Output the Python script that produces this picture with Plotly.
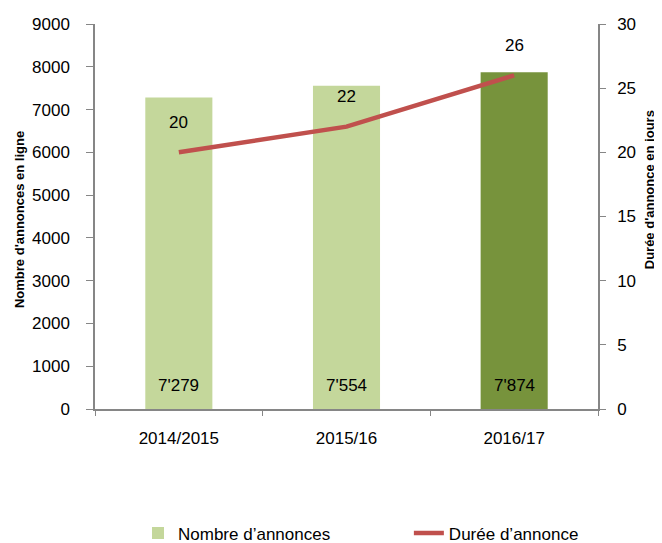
import plotly.graph_objects as go

categories = ["2014/2015", "2015/16", "2016/17"]
annonces = [7279, 7554, 7874]
annonces_labels = ["7'279", "7'554", "7'874"]
duree = [20, 22, 26]
bar_colors = ["#c4d79b", "#c4d79b", "#77933c"]

FONT = "Liberation Sans, Arial, sans-serif"
AXIS = "#868686"
FS = 17

fig = go.Figure()
fig.add_trace(go.Bar(
    x=categories, y=annonces, name="Nombre d\u2019annonces",
    marker=dict(color=bar_colors, line=dict(width=0)),
    showlegend=True, legend="legend",
))
fig.add_trace(go.Scatter(
    x=categories, y=duree, name="Durée d\u2019annonce", yaxis="y2",
    mode="lines", line=dict(color="#c0504d", width=4.5), legend="legend2",
))

ann = []
for c, v, lab in zip(categories, annonces, annonces_labels):
    ann.append(dict(x=c, y=0, xref="x", yref="y", text=lab, showarrow=False,
                    yshift=24, font=dict(size=FS, color="black", family=FONT)))
for c, v in zip(categories, duree):
    ann.append(dict(x=c, y=v, xref="x", yref="y2", text=str(v), showarrow=False,
                    yshift=30, font=dict(size=FS, color="black", family=FONT)))
ann.append(dict(x=-0.149, y=0.491, xref="paper", yref="paper", xanchor="center", yanchor="middle",
                text="<b>Nombre d'annonces en ligne</b>",
                textangle=-90, showarrow=False, font=dict(size=13, color="black", family=FONT)))
ann.append(dict(x=1.104, y=0.569, xref="paper", yref="paper", xanchor="center", yanchor="middle",
                text="<b>Durée d'annonce en jours</b>",
                textangle=-90, showarrow=False, font=dict(size=13, color="black", family=FONT)))

leg_common = dict(orientation="h", yanchor="middle", xanchor="left", font=dict(size=FS),
                  bgcolor="rgba(0,0,0,0)")
fig.update_layout(
    width=662, height=560,
    margin=dict(l=87, r=72, t=16, b=159),
    paper_bgcolor="white", plot_bgcolor="white",
    font=dict(family=FONT, size=FS, color="black"),
    bargap=0.6,
    annotations=ann,
    xaxis=dict(type="category", showline=True, linecolor=AXIS, linewidth=1.5,
               ticks="outside", tickson="boundaries", tickcolor=AXIS, ticklen=5,
               ticklabelstandoff=13, automargin=False,
               showgrid=False, tickfont=dict(size=FS)),
    yaxis=dict(range=[0, 9000], dtick=1000, showline=True, linecolor=AXIS, linewidth=1.5,
               ticks="outside", tickcolor=AXIS, ticklen=7, ticklabelstandoff=13, automargin=False,
               showgrid=False, zeroline=False, tickfont=dict(size=FS)),
    yaxis2=dict(range=[0, 30], dtick=5, overlaying="y", side="right", showline=True,
                linecolor=AXIS, linewidth=1.5, ticks="outside", tickcolor=AXIS, ticklen=6,
                ticklabelstandoff=8, automargin=False,
                showgrid=False, zeroline=False, tickfont=dict(size=FS)),
    legend=dict(x=0.0855, y=-0.323, **leg_common),
    legend2=dict(x=0.624, y=-0.323, **leg_common),
)

fig.write_html("out.html")
